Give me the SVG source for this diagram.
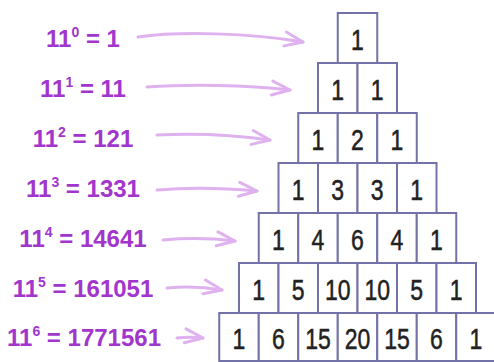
<svg xmlns="http://www.w3.org/2000/svg" width="494" height="362" viewBox="0 0 494 362">
<style>
.lbl{font-family:"Liberation Sans",Arial,sans-serif;font-size:24px;font-weight:bold;fill:#a236cc;text-anchor:middle}
.sup{font-size:14px}
.cell rect{fill:#ffffff;stroke:#7272a8;stroke-width:2}
.cell text{font-family:"Liberation Sans",Arial,sans-serif;font-size:23px;fill:#222222;stroke:#222222;stroke-width:0.4;text-anchor:middle}
.arr{fill:none;stroke:#dfb2ef;stroke-width:3;stroke-linecap:round;marker-end:url(#ah)}
</style>
<defs>
<marker id="ah" markerUnits="userSpaceOnUse" markerWidth="24" markerHeight="20" refX="21" refY="9" orient="auto">
<path d="M3,2 L21,9 L3,16" fill="none" stroke="#dfb2ef" stroke-width="3" stroke-linecap="round" stroke-linejoin="round"/>
</marker>
</defs>
<rect width="494" height="362" fill="#ffffff"/>
<g id="labels">
<g id="label-0"><text class="lbl" x="83" y="47">11<tspan class="sup" dy="-10">0</tspan><tspan dy="10"> = 1</tspan></text></g>
<g id="label-1"><text class="lbl" x="83" y="97">11<tspan class="sup" dy="-10">1</tspan><tspan dy="10"> = 11</tspan></text></g>
<g id="label-2"><text class="lbl" x="83" y="147">11<tspan class="sup" dy="-10">2</tspan><tspan dy="10"> = 121</tspan></text></g>
<g id="label-3"><text class="lbl" x="83" y="197">11<tspan class="sup" dy="-10">3</tspan><tspan dy="10"> = 1331</tspan></text></g>
<g id="label-4"><text class="lbl" x="83" y="247">11<tspan class="sup" dy="-10">4</tspan><tspan dy="10"> = 14641</tspan></text></g>
<g id="label-5"><text class="lbl" x="83" y="297">11<tspan class="sup" dy="-10">5</tspan><tspan dy="10"> = 161051</tspan></text></g>
<g id="label-6"><text class="lbl" x="84" y="346">11<tspan class="sup" dy="-10">6</tspan><tspan dy="10"> = 1771561</tspan></text></g>
</g>
<g id="connectors">
<path class="arr" d="M138,37 C180,31 250,33 303,42"/>
<path class="arr" d="M147,87 C190,84 245,85 290,90"/>
<path class="arr" d="M157,135 C195,133 235,135 270,140"/>
<path class="arr" d="M157,190 C190,187 225,188 257,191"/>
<path class="arr" d="M163,240 C185,238 210,238 235,241"/>
<path class="arr" d="M167,288 C185,286 205,287 222,290"/>
<path class="arr" d="M177,338 C185,337 195,337 203,338"/>
</g>
<g id="pyramid">
<g id="r0c0" class="cell"><rect x="337.75" y="13" width="39.5" height="50"/><text transform="translate(357.5,50) scale(1,1.3)">1</text></g>

<g id="r1c0" class="cell"><rect x="318" y="63" width="39.5" height="50"/><text transform="translate(337.75,100) scale(1,1.3)">1</text></g>
<g id="r1c1" class="cell"><rect x="357.5" y="63" width="39.5" height="50"/><text transform="translate(377.25,100) scale(1,1.3)">1</text></g>

<g id="r2c0" class="cell"><rect x="298.25" y="113" width="39.5" height="50"/><text transform="translate(318,150) scale(1,1.3)">1</text></g>
<g id="r2c1" class="cell"><rect x="337.75" y="113" width="39.5" height="50"/><text transform="translate(357.5,150) scale(1,1.3)">2</text></g>
<g id="r2c2" class="cell"><rect x="377.25" y="113" width="39.5" height="50"/><text transform="translate(397,150) scale(1,1.3)">1</text></g>

<g id="r3c0" class="cell"><rect x="278.5" y="163" width="39.5" height="50"/><text transform="translate(298.25,200) scale(1,1.3)">1</text></g>
<g id="r3c1" class="cell"><rect x="318" y="163" width="39.5" height="50"/><text transform="translate(337.75,200) scale(1,1.3)">3</text></g>
<g id="r3c2" class="cell"><rect x="357.5" y="163" width="39.5" height="50"/><text transform="translate(377.25,200) scale(1,1.3)">3</text></g>
<g id="r3c3" class="cell"><rect x="397" y="163" width="39.5" height="50"/><text transform="translate(416.75,200) scale(1,1.3)">1</text></g>

<g id="r4c0" class="cell"><rect x="258.75" y="213" width="39.5" height="50"/><text transform="translate(278.5,250) scale(1,1.3)">1</text></g>
<g id="r4c1" class="cell"><rect x="298.25" y="213" width="39.5" height="50"/><text transform="translate(318,250) scale(1,1.3)">4</text></g>
<g id="r4c2" class="cell"><rect x="337.75" y="213" width="39.5" height="50"/><text transform="translate(357.5,250) scale(1,1.3)">6</text></g>
<g id="r4c3" class="cell"><rect x="377.25" y="213" width="39.5" height="50"/><text transform="translate(397,250) scale(1,1.3)">4</text></g>
<g id="r4c4" class="cell"><rect x="416.75" y="213" width="39.5" height="50"/><text transform="translate(436.5,250) scale(1,1.3)">1</text></g>

<g id="r5c0" class="cell"><rect x="239" y="263" width="39.5" height="50"/><text transform="translate(258.75,300) scale(1,1.3)">1</text></g>
<g id="r5c1" class="cell"><rect x="278.5" y="263" width="39.5" height="50"/><text transform="translate(298.25,300) scale(1,1.3)">5</text></g>
<g id="r5c2" class="cell"><rect x="318" y="263" width="39.5" height="50"/><text transform="translate(337.75,300) scale(1,1.3)">10</text></g>
<g id="r5c3" class="cell"><rect x="357.5" y="263" width="39.5" height="50"/><text transform="translate(377.25,300) scale(1,1.3)">10</text></g>
<g id="r5c4" class="cell"><rect x="397" y="263" width="39.5" height="50"/><text transform="translate(416.75,300) scale(1,1.3)">5</text></g>
<g id="r5c5" class="cell"><rect x="436.5" y="263" width="39.5" height="50"/><text transform="translate(456.25,300) scale(1,1.3)">1</text></g>

<g id="r6c0" class="cell"><rect x="219.25" y="313" width="39.5" height="48"/><text transform="translate(239,349) scale(1,1.3)">1</text></g>
<g id="r6c1" class="cell"><rect x="258.75" y="313" width="39.5" height="48"/><text transform="translate(278.5,349) scale(1,1.3)">6</text></g>
<g id="r6c2" class="cell"><rect x="298.25" y="313" width="39.5" height="48"/><text transform="translate(318,349) scale(1,1.3)">15</text></g>
<g id="r6c3" class="cell"><rect x="337.75" y="313" width="39.5" height="48"/><text transform="translate(357.5,349) scale(1,1.3)">20</text></g>
<g id="r6c4" class="cell"><rect x="377.25" y="313" width="39.5" height="48"/><text transform="translate(397,349) scale(1,1.3)">15</text></g>
<g id="r6c5" class="cell"><rect x="416.75" y="313" width="39.5" height="48"/><text transform="translate(436.5,349) scale(1,1.3)">6</text></g>
<g id="r6c6" class="cell"><rect x="456.25" y="313" width="39.5" height="48"/><text transform="translate(476,349) scale(1,1.3)">1</text></g>
</g>
</svg>
